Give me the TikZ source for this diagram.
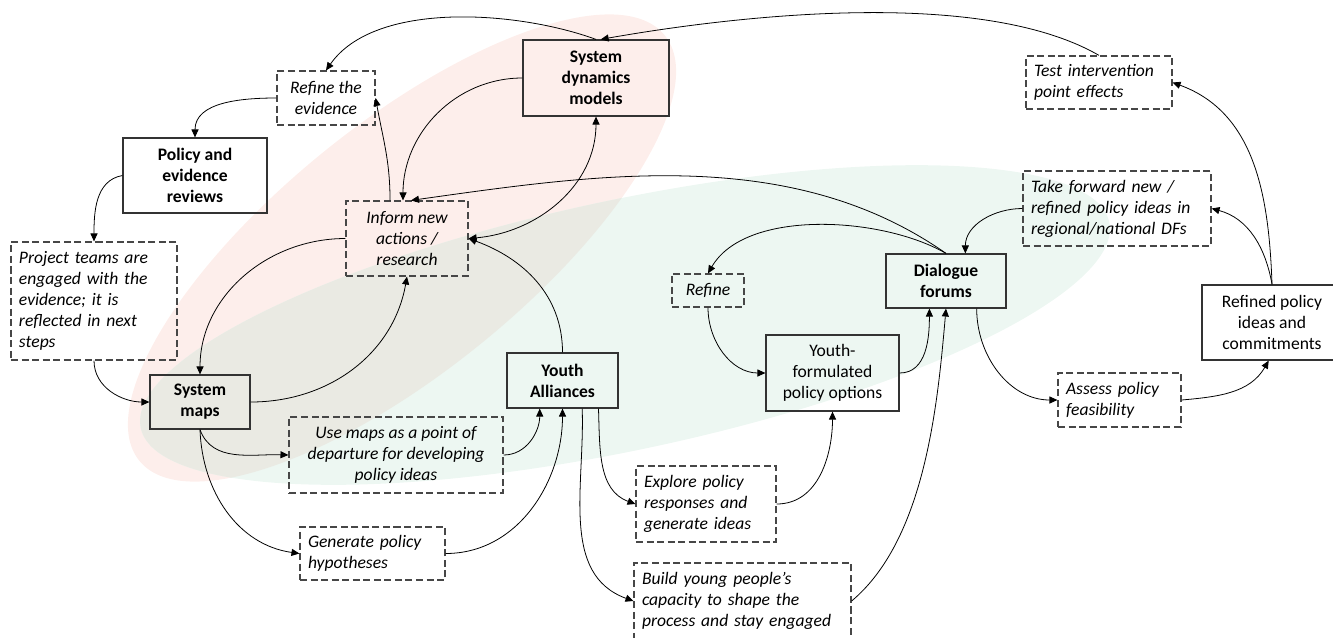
\documentclass[tikz,border=0pt]{standalone}
\usepackage{fontspec}
\setmainfont{Carlito}
\usepackage{tikz}
\usepackage{xcolor}
\usetikzlibrary{positioning,arrows.meta}
\definecolor{pinkzone}{RGB}{253,238,235}
\definecolor{greenzone}{RGB}{237,247,242}
\definecolor{bothzone}{RGB}{234,234,227}

\begin{document}
\begin{tikzpicture}[x=0.2mm,y=-0.2mm,
  box/.style={draw=black!80,line width=0.7pt,align=center},
  boldbox/.style={box,font=\fontsize{10}{12}\selectfont\bfseries},
  dbox/.style={draw=black!72,line width=0.7pt,dash pattern=on 4pt off 2pt,font=\fontsize{10}{12}\selectfont\itshape},
  dleft/.style={dbox,align=left,inner xsep=1.6mm},
  link/.style={-{Triangle[length=4.5pt,width=4pt]},line width=0.45pt},
  dlink/.style={{Triangle[length=4.5pt,width=4pt]}-{Triangle[length=4.5pt,width=4pt]},line width=0.45pt}]
\tikzstyle{every node}+=[inner sep=0pt,font=\fontsize{10}{12}\selectfont]
\useasboundingbox (0,0) rectangle (1333,637);
\fill [pinkzone,rotate around={39:(402,248)}] (402,248) ellipse [x radius=67.6mm,y radius=24.8mm];
\fill [greenzone,rotate around={12:(625,325)}] (625,325) ellipse [x radius=99mm,y radius=25mm];
\begin{scope}
\clip [rotate around={39:(402,248)}] (402,248) ellipse [x radius=67.6mm,y radius=24.8mm];
\fill [bothzone,rotate around={12:(625,325)}] (625,325) ellipse [x radius=99mm,y radius=25mm];
\end{scope}

\node [dbox,align=center,minimum width=19.6mm,minimum height=10.8mm] (refev) at (326,98) {Refine the\\evidence};
\node [boldbox,minimum width=28.8mm,minimum height=15mm] (polrev) at (195,175.5) {Policy and\\evidence\\reviews};
\node [dleft,text width=30mm,minimum height=23.6mm] (projteam) at (94,301) {Project teams are\\engaged with the\\evidence; it is\\reflected in next\\steps};
\node [dbox,align=center,minimum width=24.4mm,minimum height=15mm] (inform) at (407,238.5) {Inform new\\actions /\\research};
\node [boldbox,minimum width=29.2mm,minimum height=15.2mm] (sdm) at (596,78) {System\\dynamics\\models};
\node [boldbox,minimum width=20mm,minimum height=10.8mm] (smaps) at (200,402) {System\\maps};
\node [dbox,align=center,minimum width=42.8mm,minimum height=15.2mm] (usemaps) at (396,455) {Use maps as a point of\\departure for developing\\policy ideas};
\node [dleft,text width=25.8mm,minimum height=10.6mm] (genpol) at (372.5,553.5) {Generate policy\\hypotheses};
\node [boldbox,minimum width=22.2mm,minimum height=11mm] (youth) at (562.5,380.5) {Youth\\Alliances};
\node [dleft,text width=24.8mm,minimum height=15.2mm] (explore) at (706,504) {Explore policy\\responses and\\generate ideas};
\node [dleft,text width=40.2mm,minimum height=15.2mm] (build) at (742.5,601) {Build young people’s\\capacity to shape the\\process and stay engaged};
\node [dbox,align=center,minimum width=14.4mm,minimum height=6.6mm] (refine) at (708,290.5) {Refine};
\node [box,minimum width=26.6mm,minimum height=15.2mm] (yfpo) at (832.5,373) {Youth-\\formulated\\policy options};
\node [boldbox,minimum width=24mm,minimum height=10.8mm] (dialogue) at (946,281) {Dialogue\\forums};
\node [dleft,text width=26mm,minimum height=10.6mm] (testint) at (1099,82.5) {Test intervention\\point effects};
\node [dleft,text width=34.4mm,minimum height=15mm] (takefwd) at (1117,208.5) {Take forward new /\\refined policy ideas in\\regional/national DFs};
\node [box,minimum width=28mm,minimum height=15mm] (refined) at (1272,322.5) {Refined policy\\ideas and\\commitments};
\node [dleft,text width=21.4mm,minimum height=10.8mm] (assess) at (1119.5,400) {Assess policy\\feasibility};

\draw [link] (testint.north) to[out=150,in=10,looseness=0.7] (sdm.83);
\draw [link] (sdm.north) to[out=160,in=55,looseness=0.8] (refev.north);
\draw [link] (refev.west) to[out=180,in=90] (polrev.north);
\draw [link] (polrev.west) to[out=190,in=90] (projteam.north);
\draw [link] (projteam.south) to[out=-90,in=180] (smaps.west);
\draw [link] (inform.west) to[out=180,in=90] (smaps.north);
\draw [link] (smaps.east) to[out=0,in=-100] (inform.south);
\draw [link] (inform.114) to[out=90,in=-80] (refev.east);
\draw [link] (sdm.west) to[out=180,in=90] (inform.96);
\draw [link] (dialogue.north) to[out=145,in=8,looseness=0.9] (inform.84);
\draw [dlink] (sdm.south) to[out=-90,in=5] (inform.east);
\draw [link] (youth.north) to[out=90,in=-20] (inform.east);
\draw [link] (dialogue.north) to[out=150,in=60,looseness=0.8] (refine.north);
\draw [link] (refine.south) to[out=-90,in=180] (yfpo.west);
\draw [link] (yfpo.east) to[out=0,in=-90] (dialogue.239);
\draw [link] (build.east) to[out=40,in=-95,looseness=0.8] (dialogue.south);
\draw [link] (dialogue.-42) to[out=-90,in=180] (assess.west);
\draw [link] (assess.east) to[out=5,in=-120] (refined.265);
\draw [link] (refined.north) to[out=100,in=-15] (takefwd.east);
\draw [link] (refined.north) to[out=92,in=-20] (testint.east);
\draw [link] (takefwd.west) to[out=180,in=90] (dialogue.55);
\draw [link] (smaps.south) to[out=-70,in=178] (usemaps.west);
\draw [link] (smaps.south) to[out=-88,in=172] (genpol.west);
\draw [link] (usemaps.east) to[out=0,in=-90] (youth.231);
\draw [link] (genpol.east) to[out=0,in=-90] (youth.south);
\draw [link] (youth.-38) to[out=-88,in=160] (explore.west);
\draw [link] (youth.-55) to[out=-88,in=160] (build.west);
\draw [link] (explore.east) to[out=0,in=-90] (yfpo.south);
\end{tikzpicture}
\end{document}
